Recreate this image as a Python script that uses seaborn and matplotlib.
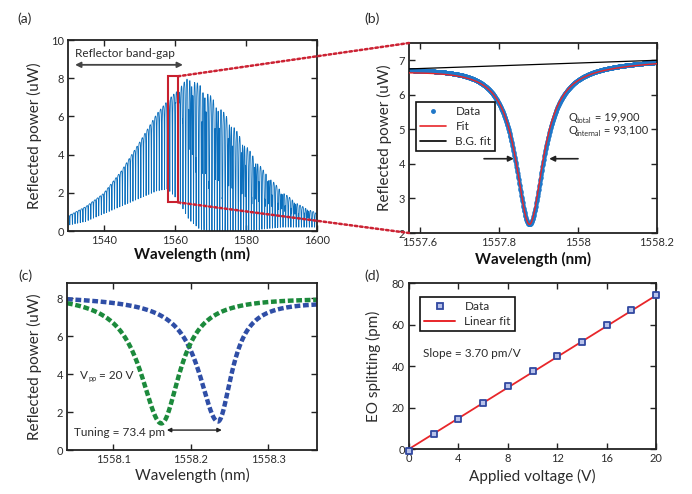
import numpy as np
import pandas as pd
import matplotlib
matplotlib.use('Agg')
import matplotlib.pyplot as plt
import seaborn as sns
from matplotlib.patches import Rectangle, ConnectionPatch
from matplotlib.lines import Line2D

# ---------------- data ----------------
# (a) broadband reflection spectrum of the cavity comb
a_env_wl = [1530, 1535, 1540, 1545, 1550, 1555, 1558, 1561, 1564, 1567, 1570, 1575, 1580, 1585, 1590, 1595, 1600]
a_env_top = [0.8, 1.3, 2.0, 3.2, 4.7, 6.3, 7.0, 7.7, 8.7, 8.5, 7.9, 6.6, 5.0, 3.5, 2.3, 1.5, 1.0]
a_dip_floor = [0.3, 0.5, 0.9, 1.3, 1.7, 2.1, 2.2, 1.6, 0.6, 0.1, 0.0, 0.0, 0.0, 0.1, 0.2, 0.2, 0.2]
a_dip2_frac = [0, 0, 0, 0, 0, 0, 0, 0.1, 0.5, 0.6, 0.6, 0.6, 0.6, 0.55, 0.5, 0.5, 0.5]
a_hwhm1 = [0.04, 0.04, 0.04, 0.04, 0.04, 0.045, 0.045, 0.05, 0.06, 0.07, 0.07, 0.07, 0.07, 0.07, 0.07, 0.07, 0.07]
a_fsr = [0.74, 0.93]          # nm, two mode families
a_ref_res = [1557.877, 1560.30]
a_hwhm2 = 0.05
a_box = [1558.1, 1560.9, 1.5, 8.1]   # zoom window drawn in (a)

# (b) single resonance
b_center = 1557.877
b_min = 2.25
b_data_hwhm = 0.044
b_fit_hwhm = 0.042
b_edges = [1557.572, 1558.2]
b_data_base = [6.80, 7.03]
b_fit_base = [6.72, 6.98]
b_bg_val = [6.75, 7.00]

# (c) tuned resonances at +/-10 V
c_centers = [1558.235, 1558.162]           # blue, green
c_mins = [1.5, 1.4]
c_hwhm_left = [0.030, 0.033]
c_hwhm_right = [0.022, 0.029]
c_edges = [1558.04, 1558.363]
c_base_blue = [8.10, 7.85]
c_base_green = [8.20, 8.05]

# (d) EO splitting vs voltage
d_volt = [0, 2, 4, 6, 8, 10, 12, 14, 16, 18, 20]
d_split = [-0.8, 7.3, 14.6, 22.4, 30.2, 37.8, 44.8, 51.8, 59.7, 66.9, 74.2]
d_fit_x = [0, 20]
d_fit_y = [0, 74.0]

# ---------------- style ----------------
sns.set_style('ticks')
plt.rcParams['font.family'] = ['Lato', 'DejaVu Sans']
TXT = '#2b2b2b'

W, H = 692, 494
fig = plt.figure(figsize=(W / 100, H / 100), dpi=100)


def add_ax(l, r, t, b):
    return fig.add_axes([l / W, (H - b) / H, (r - l) / W, (b - t) / H])


axa = add_ax(68, 317, 40, 231)
axb = add_ax(409, 657, 43, 233)
axc = add_ax(67, 317, 283, 450)
axd = add_ax(409, 656, 283, 449)

for ax in (axa, axb, axc, axd):
    ax.tick_params(direction='in', top=True, right=True, length=4, width=1.0,
                   labelsize=8, labelcolor=TXT, color='#222222', pad=3)
    for s in ax.spines.values():
        s.set_linewidth(1.3)
        s.set_color('#222222')


def sub_text(ax, x, y, main, sub, rest, fs=8.5, sfs=5.2):
    """Text with a small subscript, e.g. Q_total = ..."""
    t1 = ax.text(x, y, main, fontsize=fs, color=TXT, va='center', ha='left')
    t2 = ax.annotate(sub, xy=(1.0, 0.2), xycoords=t1, fontsize=sfs, color=TXT,
                     va='center', ha='left')
    ax.annotate(rest, xy=(1.0, 0.0), xycoords=(t2, t1), fontsize=fs, color=TXT,
                va='bottom', ha='left')


# ---------------- (a) ----------------
wl = np.arange(1530, 1600.0001, 0.004)
top = np.interp(wl, a_env_wl, a_env_top)
floor = np.interp(wl, a_env_wl, a_dip_floor)
f2 = np.interp(wl, a_env_wl, a_dip2_frac)


def comb(ref, fsr, gam_fn):
    n = np.arange(np.ceil((1529 - ref) / fsr), np.floor((1601 - ref) / fsr) + 1)
    r = ref + n * fsr
    g = gam_fn(r)
    L = (g[None, :] ** 2 / (g[None, :] ** 2 + (wl[:, None] - r[None, :]) ** 2)).sum(axis=1)
    return np.clip(L, 0, 1)


L1 = comb(a_ref_res[0], a_fsr[0], lambda r: np.interp(r, a_env_wl, a_hwhm1))
L2 = comb(a_ref_res[1], a_fsr[1], lambda r: np.full_like(r, a_hwhm2))
spec = top - (top - floor) * L1
spec = spec - (spec - floor) * f2 * L2
dfa = pd.DataFrame({'wl': wl, 'p': spec})
sns.lineplot(data=dfa, x='wl', y='p', ax=axa, color='#0b6fbd', lw=0.6,
             estimator=None, sort=False)
axa.set_xlim(1530, 1600)
axa.set_ylim(0, 10)
axa.set_xticks([1540, 1560, 1580, 1600])
axa.set_yticks([0, 2, 4, 6, 8, 10])
axa.set_xlabel('Wavelength (nm)', fontsize=11, color='#111111', fontweight='bold')
axa.set_ylabel('Reflected power (uW)', fontsize=11, color=TXT)
axa.xaxis.set_label_coords(0.5, -0.085)
axa.yaxis.set_label_coords(-0.105, 0.5)
axa.add_patch(Rectangle((a_box[0], a_box[2]), a_box[1] - a_box[0], a_box[3] - a_box[2],
                        fill=False, ec='#c8202e', lw=1.5, zorder=5))
axa.annotate('', xy=(1532, 8.7), xytext=(1562.3, 8.7),
             arrowprops=dict(arrowstyle='<|-|>', color='#444444', lw=1.3,
                             mutation_scale=8, shrinkA=0, shrinkB=0))
axa.text(1546, 9.3, 'Reflector band-gap', fontsize=8.5, color=TXT, ha='center', va='center')

# ---------------- (b) ----------------
bw = np.arange(b_edges[0], b_edges[1] + 1e-9, 0.0005)
data_base = np.interp(bw, b_edges, b_data_base)
fit_base = np.interp(bw, b_edges, b_fit_base)
b_data = data_base - (data_base - b_min) * b_data_hwhm ** 2 / (b_data_hwhm ** 2 + (bw - b_center) ** 2)
b_fit = fit_base - (fit_base - b_min) * b_fit_hwhm ** 2 / (b_fit_hwhm ** 2 + (bw - b_center) ** 2)
sns.scatterplot(x=bw, y=b_data, ax=axb, color='#1f77c8', s=9, linewidth=0, zorder=2)
sns.lineplot(x=bw, y=b_fit, ax=axb, color='#e8262a', lw=1.0, estimator=None, sort=False, zorder=3)
sns.lineplot(x=b_edges, y=b_bg_val, ax=axb, color='black', lw=0.9, estimator=None, zorder=4)
axb.set_xlim(b_edges[0], 1558.2)
axb.set_ylim(2, 7.5)
axb.set_xticks([1557.6, 1557.8, 1558.0, 1558.2])
axb.set_xticklabels(['1557.6', '1557.8', '1558', '1558.2'])
axb.set_yticks([2, 3, 4, 5, 6, 7])
axb.set_xlabel('Wavelength (nm)', fontsize=11, color='#111111', fontweight='bold')
axb.set_ylabel('Reflected power (uW)', fontsize=11, color=TXT)
axb.xaxis.set_label_coords(0.5, -0.10)
axb.yaxis.set_label_coords(-0.07, 0.5)
hb = [Line2D([], [], ls='none', marker='.', color='#1f77c8', ms=5),
      Line2D([], [], color='#e8262a', lw=1.2),
      Line2D([], [], color='black', lw=1.2)]
legb = axb.legend(hb, ['Data', 'Fit', 'B.G. fit'], loc='upper left',
                  bbox_to_anchor=(0.028, 0.69), fontsize=8.5, frameon=True,
                  fancybox=False, edgecolor='#111111', framealpha=1,
                  handlelength=2.2, borderpad=0.35, labelspacing=0.35,
                  handletextpad=0.8, borderaxespad=0)
legb.get_frame().set_linewidth(1.2)
for t in legb.get_texts():
    t.set_color(TXT)
sub_text(axb, 1557.975, 5.35, 'Q', 'total', ' = 19,900', fs=8)
sub_text(axb, 1557.975, 4.98, 'Q', 'internal', ' = 93,100', fs=8)
axb.annotate('', xy=(1557.8375, 4.15), xytext=(1557.762, 4.15),
             arrowprops=dict(arrowstyle='-|>', color='#222222', lw=1.2, mutation_scale=8,
                             shrinkA=0, shrinkB=0))
axb.annotate('', xy=(1557.927, 4.15), xytext=(1558.0, 4.15),
             arrowprops=dict(arrowstyle='-|>', color='#222222', lw=1.2, mutation_scale=8,
                             shrinkA=0, shrinkB=0))

# connection lines from the zoom box to panel (b)
for ya, yb in ((a_box[3], 1.0), (a_box[2], 0.0)):
    con = ConnectionPatch(xyA=(a_box[1], ya), coordsA='data', axesA=axa,
                          xyB=(0.0, yb), coordsB='axes fraction', axesB=axb,
                          color='#cc2233', lw=1.8, ls=(0, (1, 1.1)), zorder=10)
    fig.add_artist(con)

# ---------------- (c) ----------------
cw = np.arange(c_edges[0], c_edges[1] + 1e-9, 0.0005)


def asym_dip(center, ymin, gl, gr, base_edges):
    base = np.interp(cw, c_edges, base_edges)
    g = np.where(cw < center, gl, gr)
    return base - (base - ymin) * g ** 2 / (g ** 2 + (cw - center) ** 2)


c_blue = asym_dip(c_centers[0], c_mins[0], c_hwhm_left[0], c_hwhm_right[0], c_base_blue)
c_green = asym_dip(c_centers[1], c_mins[1], c_hwhm_left[1], c_hwhm_right[1], c_base_green)
sns.lineplot(x=cw, y=c_blue, ax=axc, color='#2f4ea6', lw=3.2, estimator=None, sort=False)
sns.lineplot(x=cw, y=c_green, ax=axc, color='#1c8a3c', lw=3.2, estimator=None, sort=False)
for ln in axc.lines:
    ln.set_dashes([1.3, 0.6])
    ln.set_dash_capstyle('butt')
axc.set_xlim(c_edges[0], c_edges[1])
axc.set_ylim(0, 8.8)
axc.set_xticks([1558.1, 1558.2, 1558.3])
axc.set_xticklabels(['1558.1', '1558.2', '1558.3'])
axc.set_yticks([0, 2, 4, 6, 8])
axc.set_xlabel('Wavelength (nm)', fontsize=11, color=TXT)
axc.set_ylabel('Reflected power (uW)', fontsize=11, color=TXT)
axc.xaxis.set_label_coords(0.5, -0.105)
axc.yaxis.set_label_coords(-0.10, 0.5)
sub_text(axc, 1558.057, 3.95, 'V', 'pp', ' = 20 V')
axc.text(1558.049, 0.9, 'Tuning = 73.4 pm', fontsize=8.5, color=TXT, va='center')
axc.annotate('', xy=(1558.169, 1.05), xytext=(1558.24, 1.05),
             arrowprops=dict(arrowstyle='<|-|>', color='#222222', lw=1.0, mutation_scale=6,
                             shrinkA=0, shrinkB=0))

# ---------------- (d) ----------------
sns.lineplot(x=d_fit_x, y=d_fit_y, ax=axd, color='#e8262a', lw=1.3, estimator=None, zorder=2)
sns.scatterplot(x=d_volt, y=d_split, ax=axd, marker='s', s=20, color='#b8c2ea',
                edgecolor='#3048a0', linewidth=1.3, zorder=3, clip_on=False)
axd.set_xlim(0, 20)
axd.set_ylim(0, 80)
axd.set_xticks([0, 4, 8, 12, 16, 20])
axd.set_yticks([0, 20, 40, 60, 80])
axd.set_xlabel('Applied voltage (V)', fontsize=11, color=TXT)
axd.set_ylabel('EO splitting (pm)', fontsize=11, color=TXT)
axd.xaxis.set_label_coords(0.5, -0.12)
axd.yaxis.set_label_coords(-0.115, 0.5)
hd = [Line2D([], [], ls='none', marker='s', ms=4, mfc='#b8c2ea', mec='#3048a0', mew=1.3),
      Line2D([], [], color='#e8262a', lw=1.4)]
legd = axd.legend(hd, ['Data', 'Linear fit'], loc='upper left', bbox_to_anchor=(0.045, 0.916),
                  fontsize=8.5, frameon=True, fancybox=False, edgecolor='#111111', framealpha=1,
                  handlelength=2.6, borderpad=0.35, labelspacing=0.35, handletextpad=0.8,
                  borderaxespad=0)
legd.get_frame().set_linewidth(1.2)
for t in legd.get_texts():
    t.set_color(TXT)
axd.text(1.1, 46, 'Slope = 3.70 pm/V', fontsize=8.5, color=TXT, va='center')

# panel labels
for lab, x, y in (('(a)', 17, 19), ('(b)', 364, 19), ('(c)', 18, 276), ('(d)', 364, 276)):
    fig.text(x / W, 1 - y / H, lab, fontsize=10, color=TXT, ha='left', va='center')

fig.savefig('out.png', dpi=100)
